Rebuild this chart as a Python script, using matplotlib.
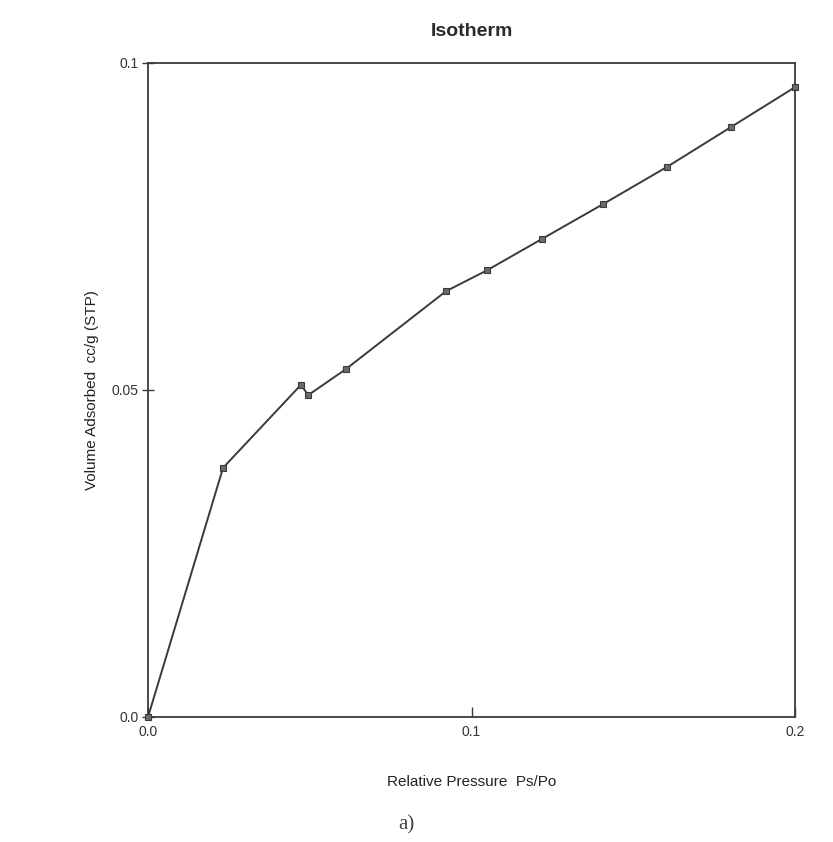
import matplotlib
matplotlib.use("Agg")
import matplotlib.pyplot as plt

# adsorption isotherm readings
pressure = [0.0, 0.0232, 0.0473, 0.0495, 0.0612, 0.0921, 0.1048,
            0.1218, 0.1406, 0.1604, 0.1802, 0.2000]
volume = [0.0, 0.0381, 0.0508, 0.0492, 0.0532, 0.0651, 0.0683,
          0.0731, 0.0784, 0.0841, 0.0902, 0.0963]

x_ticks = [0.0, 0.1, 0.2]
x_labels = ["0.0", "0.1", "0.2"]
y_ticks = [0.0, 0.05, 0.1]
y_labels = ["0.0", "0.05", "0.1"]

plt.rcParams["font.family"] = ["Liberation Sans", "DejaVu Sans"]

fig = plt.figure(figsize=(8.33, 8.42), dpi=100)
ax = fig.add_axes([0.1777, 0.1485, 0.7767, 0.7767])

ink = "#3a3a3a"
ax.plot(pressure, volume, color=ink, linewidth=1.4, marker="s",
        markersize=4.5, markerfacecolor="#6a6a6a", markeredgecolor=ink,
        markeredgewidth=0.8, clip_on=False, zorder=3)

ax.set_xlim(0, 0.2)
ax.set_ylim(0, 0.1)
ax.set_xticks(x_ticks)
ax.set_xticklabels(x_labels)
ax.set_yticks(y_ticks)
ax.set_yticklabels(y_labels)
ax.tick_params(axis="x", direction="in", length=7, width=1.0, color=ink,
               labelsize=10, labelcolor="#333", pad=6)
ax.tick_params(axis="y", direction="inout", length=8, width=1.0, color=ink,
               labelsize=10, labelcolor="#333", pad=3)
for s in ax.spines.values():
    s.set_color(ink)
    s.set_linewidth(1.3)

ax.set_xlabel("Relative Pressure  Ps/Po", fontsize=11, color="#222",
              labelpad=26)
ax.set_ylabel("Volume Adsorbed  cc/g (STP)", fontsize=11, color="#222",
              labelpad=9)
fig.text(0.566, 0.963, "Isotherm", ha="center", va="center",
         fontsize=14, fontweight="bold", color="#2a2a2a")
fig.text(0.488, 0.02, "a)", ha="center", va="center", fontsize=15,
         color="#444", family=["Liberation Serif", "DejaVu Serif"])

fig.savefig("out.png", dpi=100, facecolor="white")
